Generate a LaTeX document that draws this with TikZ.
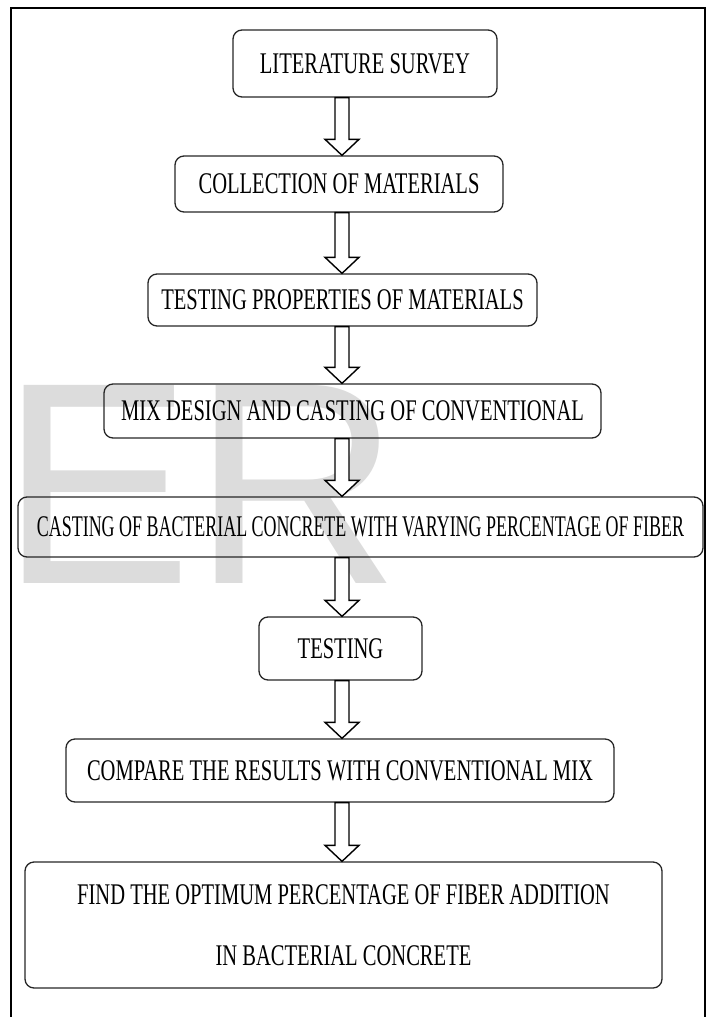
\documentclass[tikz,border=0pt]{standalone}
\usepackage{graphicx}
\usepackage{fontspec}
\setmainfont[FakeStretch=0.685]{Liberation Serif}
\newfontfamily\wmfont{Liberation Sans}
\usetikzlibrary{calc}
\definecolor{wmgray}{RGB}{220,220,220}
\newcommand{\flowarr}[2]{%
  \draw[flowarrow] let \p1=(#1.south), \p2=(#2.north) in
    ({335pt},{\y1}) -- ({335pt},{\y2+16pt}) -- ({325pt},{\y2+16pt}) --
    ({342pt},{\y2}) -- ({359pt},{\y2+16pt}) -- ({349pt},{\y2+16pt}) --
    ({349pt},{\y1}) -- cycle;}
\begin{document}
\begin{tikzpicture}[x=1pt,y=-1pt,
  stepbox/.style={draw=black!85, line width=1.3pt, rounded corners=9pt,
    inner sep=0pt, font=\fontsize{30}{36}\selectfont, align=center},
  flowarrow/.style={draw=black, line width=1.4pt, fill=white, miter limit=10}]
\useasboundingbox (0,0) rectangle (715,1017);
\clip (0,0) rectangle (715,1017);
\node[anchor=base west, inner sep=0pt, text=wmgray,
  font=\wmfont\fontsize{288}{288}\selectfont] (wm) at (0,583) {ER};
\draw[line width=1.8pt] (11,8) rectangle (705,1040);
\node[stepbox, minimum width=264pt, minimum height=67pt] (b1) at (365,63.5) {LITERATURE SURVEY};
\node[stepbox, minimum width=328pt, minimum height=56pt] (b2) at (339,184) {COLLECTION OF MATERIALS};
\node[stepbox, minimum width=389pt, minimum height=52pt] (b3) at (342.5,300) {TESTING PROPERTIES OF MATERIALS};
\node[stepbox, minimum width=497pt, minimum height=54pt] (b4) at (352.5,411) {MIX DESIGN AND CASTING OF CONVENTIONAL};
\node[stepbox, minimum width=685pt, minimum height=60pt] (b5) at (360.5,527) {\scalebox{0.873}[1]{CASTING OF BACTERIAL CONCRETE WITH VARYING PERCENTAGE OF FIBER}};
\node[stepbox, minimum width=163pt, minimum height=63pt] (b6) at (340.5,648.5) {TESTING};
\node[stepbox, minimum width=548pt, minimum height=63pt] (b7) at (340,770.5) {COMPARE THE RESULTS WITH CONVENTIONAL MIX};
\node[stepbox, minimum width=637pt, minimum height=126pt] (b8) at (343.5,925) {FIND THE OPTIMUM PERCENTAGE OF FIBER ADDITION\\[25pt]IN BACTERIAL CONCRETE};
\flowarr{b1}{b2}
\flowarr{b2}{b3}
\flowarr{b3}{b4}
\flowarr{b4}{b5}
\flowarr{b5}{b6}
\flowarr{b6}{b7}
\flowarr{b7}{b8}
\end{tikzpicture}
\end{document}
